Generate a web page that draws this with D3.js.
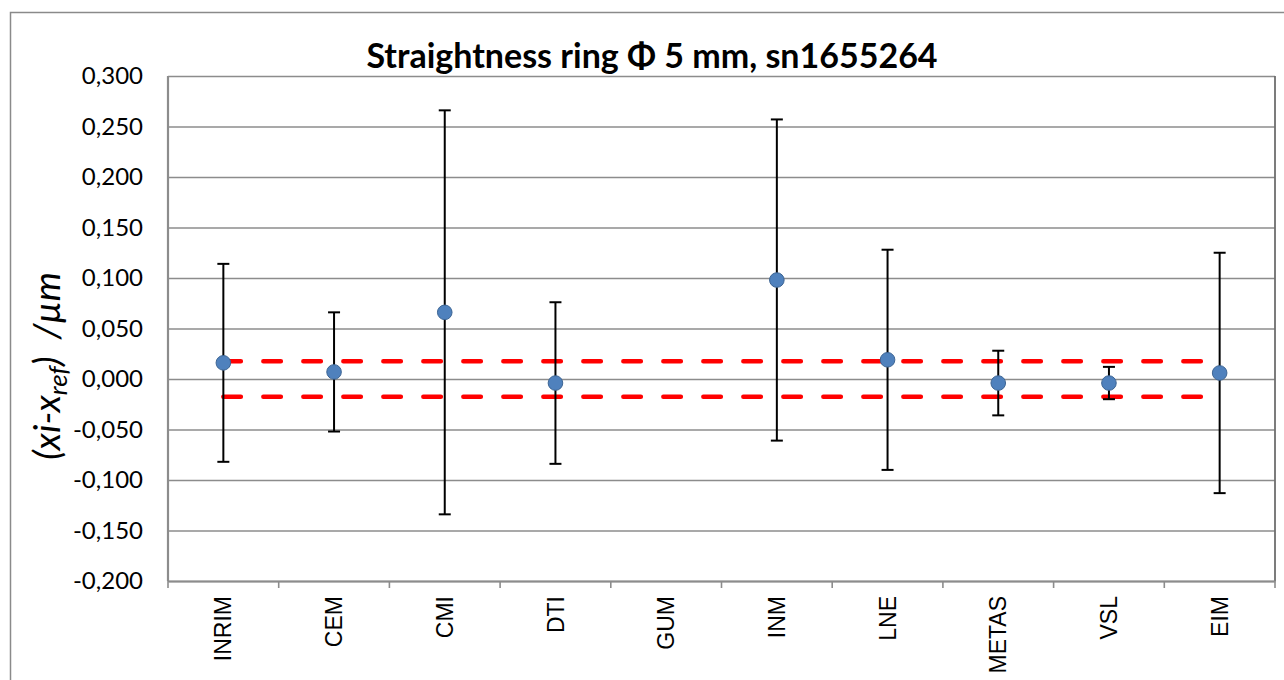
<!DOCTYPE html>
<html>
<head>
<meta charset="utf-8">
<script src="https://cdn.jsdelivr.net/npm/d3@7"></script>
<style>
  html, body { margin: 0; padding: 0; background: #fff; }
  svg { display: block; }
</style>
</head>
<body>
<svg id="chart" width="1284" height="680"></svg>
<script>
// Laboratories in the comparison
const categories = ["INRIM", "CEM", "CMI", "DTI", "GUM", "INM", "LNE", "METAS", "VSL", "EIM"];
// Deviation from reference value (µm); GUM reported no result
const deviations = [0.016, 0.007, 0.066, -0.004, null, 0.098, 0.019, -0.004, -0.004, 0.006];
// Expanded uncertainty of each deviation (µm)
const uncertainties = [0.098, 0.059, 0.200, 0.080, null, 0.159, 0.109, 0.032, 0.016, 0.119];
// Uncertainty band of the reference value (µm)
const refBandUpper = 0.0176;
const refBandLower = -0.0176;
// Y axis ticks
const yTicks = [0.300, 0.250, 0.200, 0.150, 0.100, 0.050, 0.000, -0.050, -0.100, -0.150, -0.200];
const titleText = "Straightness ring Φ 5 mm, sn1655264";

const svg = d3.select("#chart");
const plot = { left: 168, right: 1275, top: 76, bottom: 581 };

// Outer chart frame
svg.append("rect")
  .attr("x", 10.5).attr("y", 12.5)
  .attr("width", 1290).attr("height", 700)
  .attr("fill", "#fff")
  .attr("stroke", "#8a8a8a").attr("stroke-width", 1.5);

const x = d3.scaleBand().domain(categories).range([plot.left, plot.right]).padding(0);
const y = d3.scaleLinear().domain([-0.2, 0.3]).range([plot.bottom, plot.top]);
const cx = c => x(c) + x.bandwidth() / 2;
const fmt = v => d3.format(".3f")(v).replace(".", ",").replace("−", "-");

// Gridlines and y labels
const yAxis = svg.append("g")
  .attr("transform", `translate(${plot.left},0)`)
  .call(d3.axisLeft(y).tickValues(yTicks).tickFormat(fmt)
    .tickSize(-(plot.right - plot.left)).tickPadding(25));
yAxis.select(".domain").remove();
yAxis.selectAll(".tick line").attr("stroke", "#8c8c8c").attr("stroke-width", 1.6);
yAxis.selectAll(".tick text")
  .attr("fill", "#000")
  .style("font-family", "Lato, 'Open Sans', sans-serif")
  .style("font-size", "24px");

// Plot area borders
svg.append("line").attr("x1", plot.left).attr("x2", plot.left)
  .attr("y1", plot.top).attr("y2", plot.bottom)
  .attr("stroke", "#8c8c8c").attr("stroke-width", 2.2);
svg.append("line").attr("x1", plot.right).attr("x2", plot.right)
  .attr("y1", plot.top).attr("y2", plot.bottom)
  .attr("stroke", "#6e6e6e").attr("stroke-width", 1.8);

// Category axis
const xAxis = svg.append("g")
  .attr("transform", `translate(0,${plot.bottom})`)
  .call(d3.axisBottom(x).tickSize(0).tickPadding(0));
xAxis.select(".domain").attr("stroke", "#8c8c8c").attr("stroke-width", 2);
xAxis.selectAll(".tick text")
  .attr("fill", "#000")
  .attr("transform", "rotate(-90)")
  .attr("text-anchor", "end")
  .attr("dy", "0.35em")
  .attr("x", -15).attr("y", 0)
  .style("font-family", "'Liberation Sans', Arial, sans-serif")
  .style("font-size", "23px");
// Boundary tick marks between categories
const boundaries = categories.map(c => x(c)).concat([plot.right]);
svg.append("g").selectAll("line").data(boundaries).join("line")
  .attr("x1", d => d).attr("x2", d => d)
  .attr("y1", plot.bottom).attr("y2", plot.bottom + 7)
  .attr("stroke", "#8c8c8c").attr("stroke-width", 1.6);

// Reference uncertainty band
const first = categories[0], last = categories[categories.length - 1];
[refBandUpper, refBandLower].forEach(v => {
  svg.append("line")
    .attr("x1", cx(first)).attr("x2", cx(last))
    .attr("y1", y(v)).attr("y2", y(v))
    .attr("stroke", "#ff0000").attr("stroke-width", 4.5)
    .attr("stroke-linecap", "round")
    .attr("stroke-dasharray", "17.5,22.5");
});

const results = categories.map((c, i) => ({ c, v: deviations[i], u: uncertainties[i] }))
  .filter(d => d.v !== null);

// Error bars
const eb = svg.append("g").attr("stroke", "#000").attr("stroke-width", 2);
results.forEach(d => {
  const xc = cx(d.c);
  eb.append("line").attr("x1", xc).attr("x2", xc)
    .attr("y1", y(d.v + d.u)).attr("y2", y(d.v - d.u));
  [d.v + d.u, d.v - d.u].forEach(e => {
    eb.append("line").attr("x1", xc - 6).attr("x2", xc + 6)
      .attr("y1", y(e)).attr("y2", y(e));
  });
});

// Points
svg.append("g").selectAll("circle").data(results).join("circle")
  .attr("cx", d => cx(d.c)).attr("cy", d => y(d.v)).attr("r", 7.3)
  .attr("fill", "#4f81bd").attr("stroke", "#3d6594").attr("stroke-width", 1);

// Title
svg.append("text")
  .attr("x", 652).attr("y", 68)
  .attr("text-anchor", "middle")
  .style("font-family", "Lato, 'Open Sans', sans-serif")
  .style("font-weight", "bold")
  .style("font-size", "34px")
  .text(titleText);

// Y axis title
const yt = svg.append("text")
  .attr("transform", "translate(60,366) rotate(-90)")
  .attr("text-anchor", "middle")
  .style("font-family", "Lato, 'Open Sans', sans-serif")
  .style("font-style", "italic")
  .style("font-size", "37px");
yt.append("tspan").text("(xi-x");
yt.append("tspan").attr("baseline-shift", "-25%").style("font-size", "26px").text("ref");
yt.append("tspan").text(")\u00a0\u00a0/µm");
</script>
</body>
</html>
